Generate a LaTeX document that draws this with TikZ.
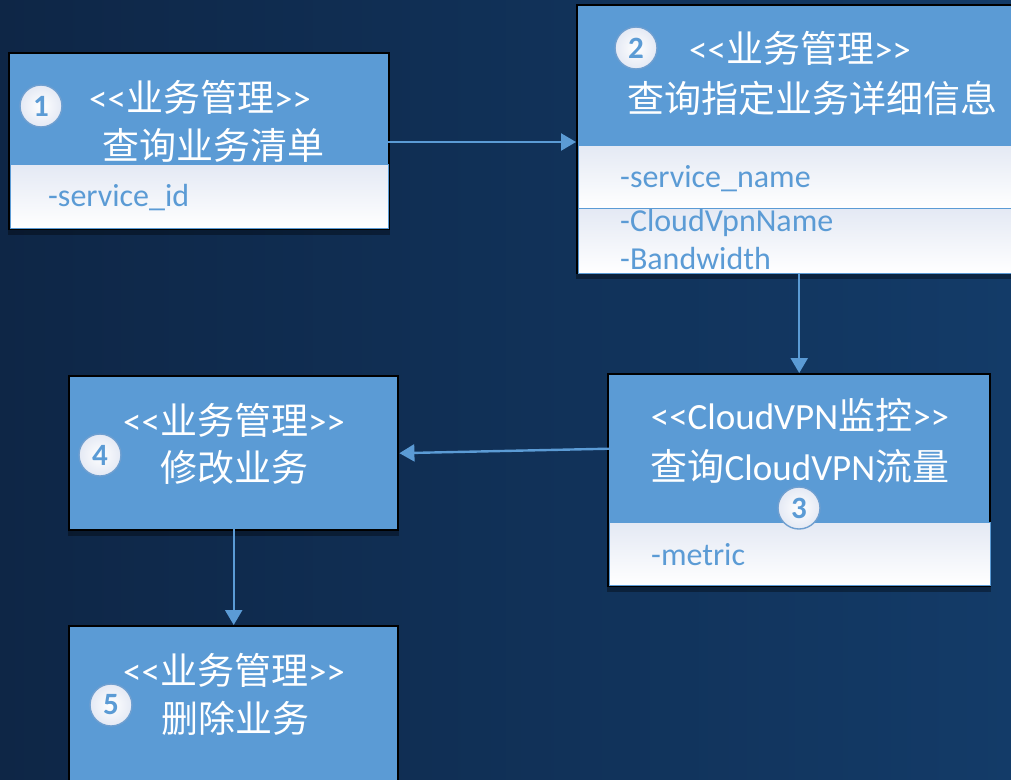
\documentclass[tikz,border=0pt]{standalone}
\usepackage{fontspec}
\setmainfont{Carlito}
\newfontfamily\cjk{Noto Sans CJK SC}
\usetikzlibrary{arrows.meta,shadows}
\definecolor{hdr}{HTML}{5B9BD5}
\definecolor{bgA}{HTML}{0E2646}
\definecolor{bgM}{HTML}{12365F}
\definecolor{bgB}{HTML}{133B68}
\definecolor{bodytop}{HTML}{E4E9F4}
\definecolor{badgeedge}{HTML}{6F9FD0}
\newcommand{\zh}[1]{{\cjk #1}}
\tikzset{
 framebox/.style={fill=black, inner sep=0pt, anchor=north west,
   drop shadow={shadow xshift=0pt, shadow yshift=-5pt, opacity=0.35, fill=black}},
 hdrbox/.style={fill=hdr, inner sep=0pt, anchor=north west},
 bodybox/.style={top color=bodytop, bottom color=white, draw=hdr, line width=1.2pt, inner sep=0pt, anchor=north west},
 title/.style={text=white, font=\fontsize{37}{44}\selectfont, inner sep=0pt},
 attr/.style={text=hdr, font=\fontsize{32}{38}\selectfont, inner sep=0pt, anchor=base west},
 badge/.style={circle, minimum size=42pt, inner sep=0pt, draw=badgeedge, line width=1.4pt,
   inner color=white, outer color=bodytop, text=hdr, font=\fontsize{31}{31}\selectfont\bfseries},
 arr/.style={draw=hdr, line width=2.4pt, -{Triangle[width=17pt,length=15pt]}}
}
\begin{document}
\begin{tikzpicture}[x=1pt,y=-1pt]
\useasboundingbox (0,0) rectangle (1011,779);
\clip (0,0) rectangle (1011,779);
\fill[left color=bgA, middle color=bgM, right color=bgB] (0,0) rectangle (1011,779);

% Box 1
\node[framebox, minimum width=382pt, minimum height=178pt] (f1) at (8,52) {};
\node[hdrbox, minimum width=378pt, minimum height=110pt] (h1) at (10,54) {};
\node[bodybox, minimum width=378pt, minimum height=64pt] (b1) at (10,164) {};
\node[title] (t1a) at (200,97) {<{}<\zh{业务管理}>{}>};
\node[title] (t1b) at (213,145) {\zh{查询业务清单}};
\node[attr] (a1) at (48,206) {-service\_id};
\node[badge] (n1) at (41,106) {1};

% Box 2
\node[framebox, minimum width=450pt, minimum height=270pt] (f2) at (576,4) {};
\node[hdrbox, minimum width=445pt, minimum height=139pt] (h2) at (578,6) {};
\node[bodybox, minimum width=445pt, minimum height=63pt] (b2a) at (578,145) {};
\node[bodybox, minimum width=445pt, minimum height=65pt] (b2b) at (578,208) {};
\node[title] (t2a) at (800,48) {<{}<\zh{业务管理}>{}>};
\node[title] (t2b) at (812,98) {\zh{查询指定业务详细信息}};
\node[attr] (a2a) at (620,187) {-service\_name};
\node[attr] (a2b) at (620,231) {-CloudVpnName};
\node[attr] (a2c) at (620,269) {-Bandwidth};
\node[badge] (n2) at (636,48) {2};

% Box 3
\node[framebox, minimum width=384pt, minimum height=214pt] (f3) at (607,373) {};
\node[hdrbox, minimum width=380pt, minimum height=147pt] (h3) at (609,375) {};
\node[bodybox, minimum width=381pt, minimum height=63pt] (b3) at (609,522) {};
\node[title] (t3a) at (800,415) {<{}<CloudVPN\zh{监控}>{}>};
\node[title] (t3b) at (800,466) {\zh{查询}CloudVPN\zh{流量}};
\node[attr] (a3) at (651,565) {-metric};
\node[badge] (n3) at (799,508) {3};

% Box 4
\node[framebox, minimum width=331pt, minimum height=156pt] (f4) at (68,375) {};
\node[hdrbox, minimum width=327pt, minimum height=152pt] (h4) at (70,377) {};
\node[title] (t4a) at (234,420) {<{}<\zh{业务管理}>{}>};
\node[title] (t4b) at (234,467) {\zh{修改业务}};
\node[badge] (n4) at (100,455) {4};

% Box 5
\node[framebox, minimum width=331pt, minimum height=204pt] (f5) at (68,625) {};
\node[hdrbox, minimum width=327pt, minimum height=200pt] (h5) at (70,627) {};
\node[title] (t5a) at (234,670) {<{}<\zh{业务管理}>{}>};
\node[title] (t5b) at (235,718) {\zh{删除业务}};
\node[badge] (n5) at (111,705) {5};

% Connectors
\coordinate (y12) at (0,142);
\draw[arr] (h1.east |- y12) -- (f2.west |- y12);
\draw[arr] (b2b.south -| h3.north) -- (f3.north -| h3.north);
\draw[arr] (h3.west) -- (f4.east |- h4.east);
\draw[arr] (h4.south) -- (f5.north);
\end{tikzpicture}
\end{document}
